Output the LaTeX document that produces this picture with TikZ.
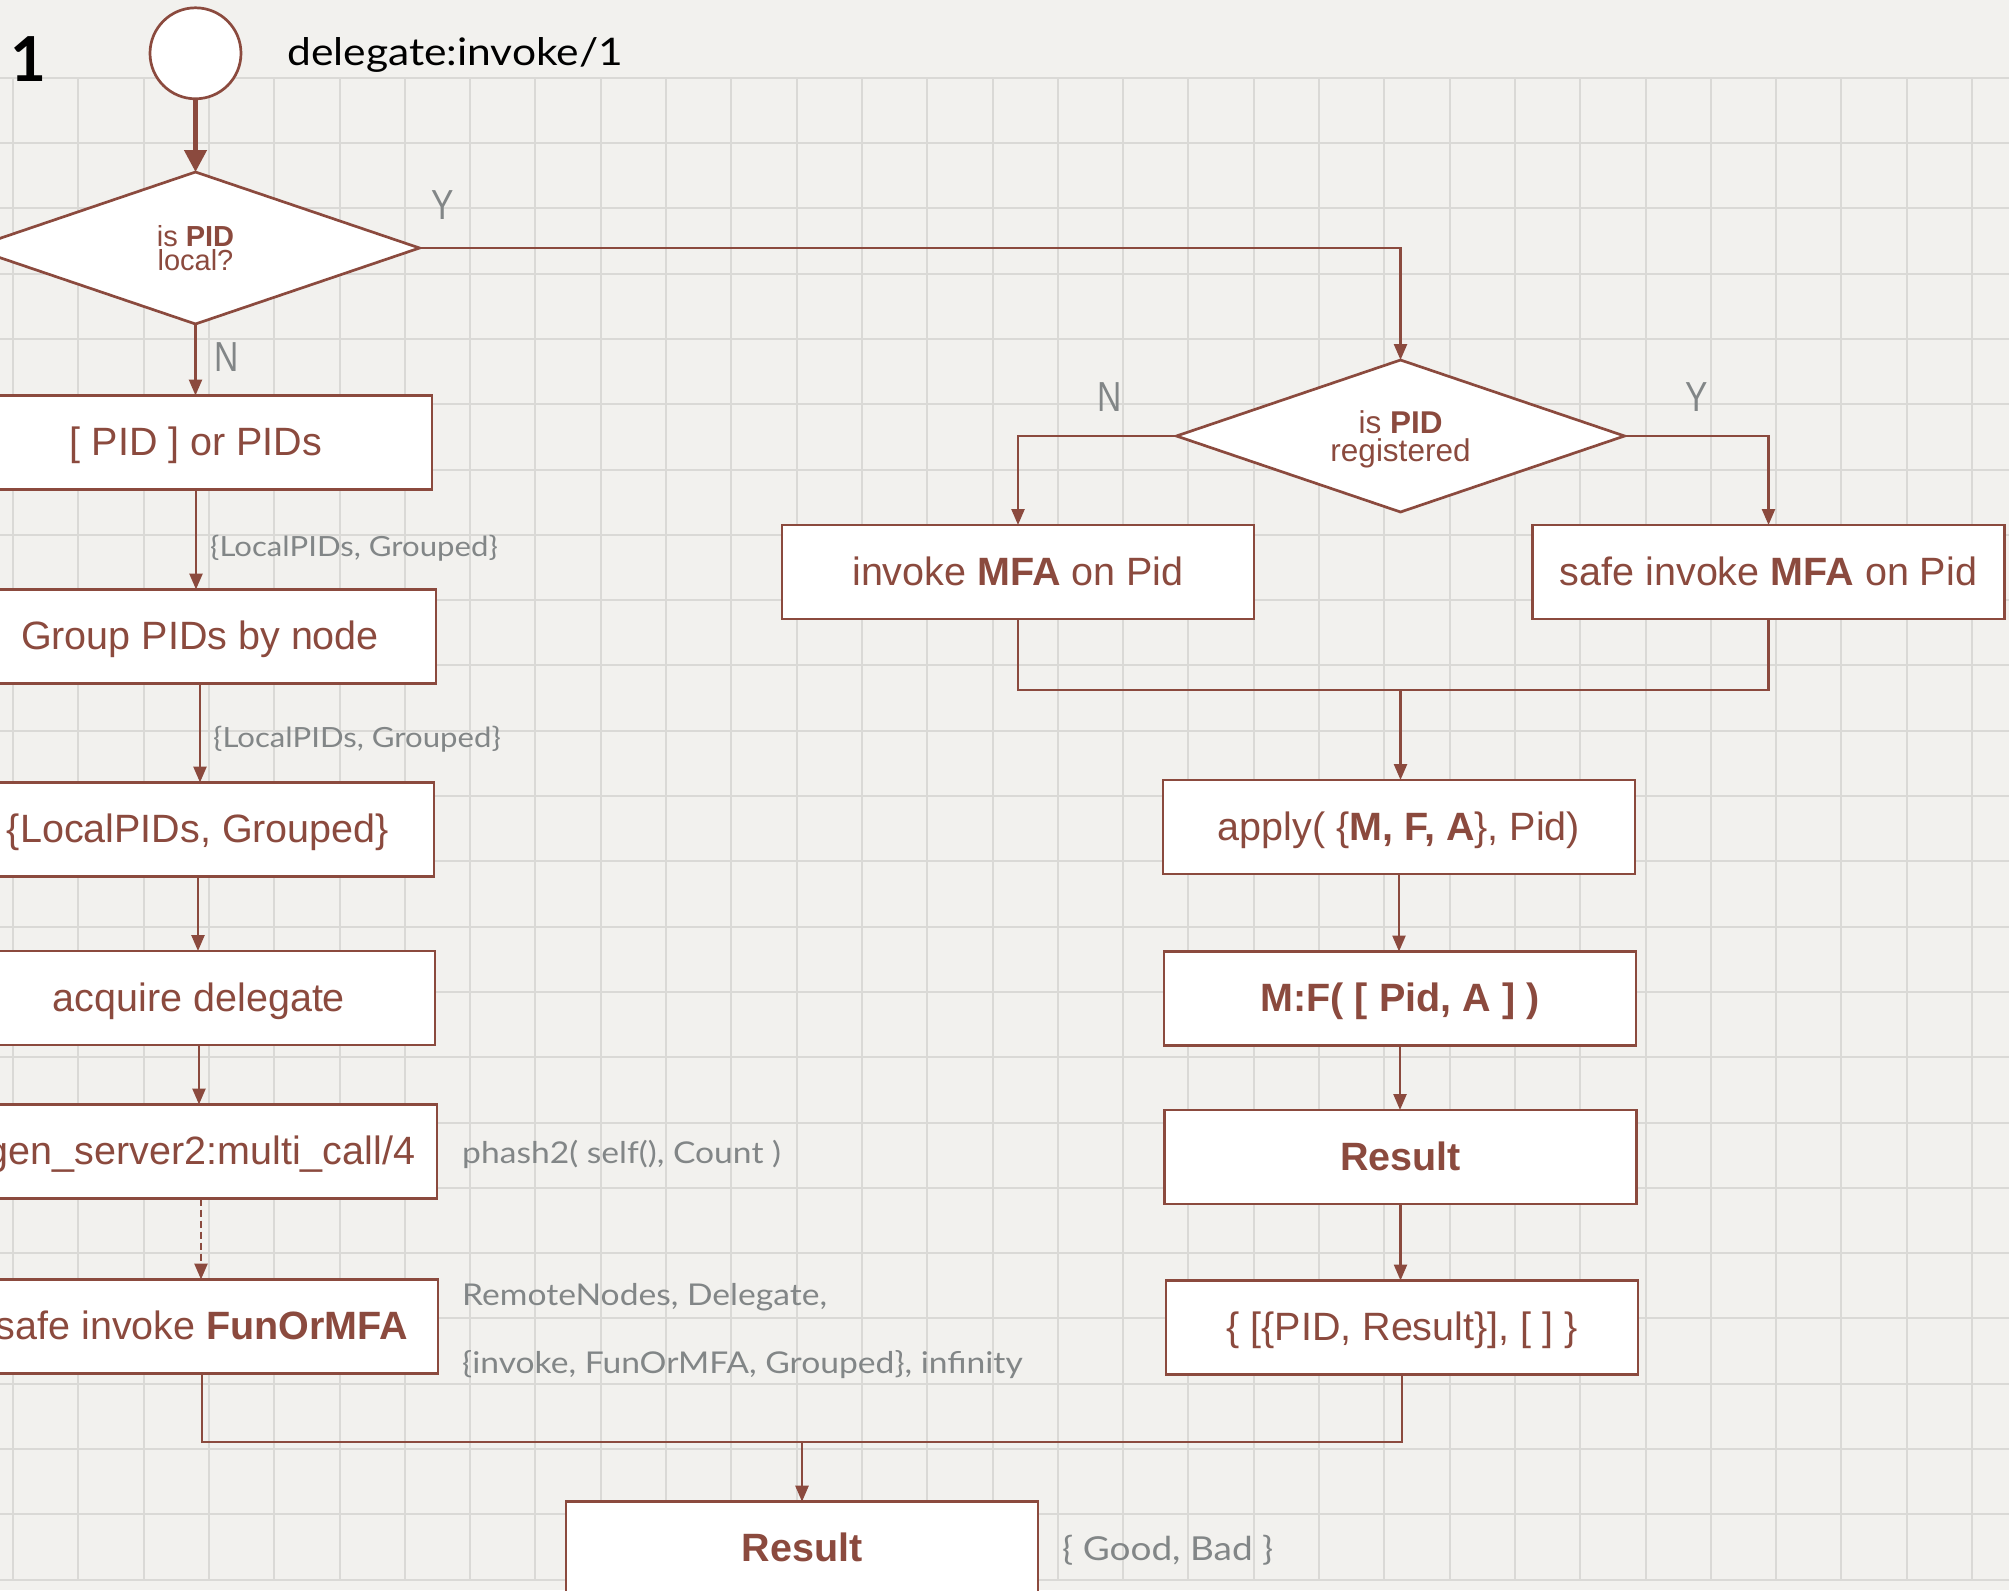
\documentclass[tikz,border=0pt]{standalone}
\usepackage{fontspec}
\setmainfont{Liberation Sans}
\newfontfamily\latofam{Lato}
\newfontfamily\latowide[FakeStretch=1.12]{Lato}
\newfontfamily\condfam[FakeStretch=0.8]{Liberation Sans}
\usetikzlibrary{arrows.meta,shapes.geometric}
\definecolor{brn}{HTML}{8B4A3E}
\definecolor{labc}{HTML}{828687}
\definecolor{paper}{HTML}{F2F1EE}
\definecolor{gridc}{HTML}{DAD9D6}
\newcommand\boxfnt{\fontsize{39.5}{47}\selectfont}
\newcommand\dfntA{\fontsize{29}{23.5}\selectfont}
\newcommand\dfntB{\fontsize{31.5}{28.7}\selectfont}
\newcommand\labA{\latowide\fontsize{27.8}{32}\selectfont}
\newcommand\labB{\latowide\fontsize{30}{34}\selectfont}
\newcommand\labC{\latowide\fontsize{33}{37}\selectfont}
\newcommand\ynfnt{\condfam\fontsize{42}{46}\selectfont}
\begin{document}
\begin{tikzpicture}[x=1pt,y=-1pt,
  box/.style={draw=brn, line width=2.7pt, fill=white, rectangle, minimum width=472pt,
    minimum height=94pt, inner sep=0pt, outer sep=0pt, text=brn, font=\boxfnt,
    text height=26pt, text depth=0pt},
  dec/.style={draw=brn, line width=2.7pt, fill=white, diamond, aspect=2.95, minimum width=448pt,
    minimum height=152pt, inner sep=0pt, outer sep=0pt, text=brn, align=center, text depth=0pt},
  conn/.style={draw=brn, line width=2.5pt},
  arr/.style={conn, -{Triangle[width=13pt,length=16pt]}},
  lab/.style={text=labc, font=\labB, anchor=base west, inner sep=0pt},
  yn/.style={text=labc, font=\ynfnt, inner sep=0pt},
]
\useasboundingbox (0,0) rectangle (2009,1590);
\clip (0,0) rectangle (2009,1590);
\fill[paper] (0,0) rectangle (2009,1590);
\foreach \i in {0,...,30} \draw[gridc, line width=2pt] ({13+65.3*\i},77.7) -- ({13+65.3*\i},1580);
\foreach \j in {0,...,23} \draw[gridc, line width=2pt] (0,{77.7+65.3*\j}) -- (2009,{77.7+65.3*\j});

% header
\node[font=\latofam\bfseries\fontsize{62}{66}\selectfont, inner sep=0pt] (one) at (28,59) {1};
\node[draw=brn, line width=2.7pt, fill=white, circle, minimum size=91pt, inner sep=0pt, outer sep=0pt] (start) at (195.5,53.3) {};
\node[font=\latowide\fontsize{38}{42}\selectfont, anchor=base west, inner sep=0pt] (title) at (287,65) {delegate:invoke/1};

% decisions
\node[dec, font=\dfntA] (d1) at (195.5,248) {is \textbf{PID}\\local?};
\node[dec, font=\dfntB] (d2) at (1400.5,436) {is \textbf{PID}\\registered};

% left column
\node[box] (b1) at (196,442.5) {[ PID ] or PIDs};
\node[box] (b2) at (200,636.5) {Group PIDs by node};
\node[box] (b3) at (198,829.5) {\{LocalPIDs, Grouped\}};
\node[box] (b4) at (199,998) {acquire delegate};
\node[box] (b5) at (201,1151.5) {gen\_server2:multi\_call/4};
\node[box] (b6) at (202,1326.5) {safe invoke \textbf{FunOrMFA}};

% right column
\node[box] (r1) at (1018,572) {invoke \textbf{MFA} on Pid};
\node[box] (r2) at (1768.5,572) {safe invoke \textbf{MFA} on Pid};
\node[box] (ap) at (1399,827) {apply( \{\textbf{M, F, A}\}, Pid)};
\node[box] (mf) at (1400,998.5) {\textbf{M:F( [ Pid, A ] )}};
\node[box] (rs) at (1400.5,1157) {\textbf{Result}};
\node[box] (ls) at (1402,1327.5) {\{ [\{PID, Result\}], [ ] \}};
\node[box] (res) at (802,1548.7) {\textbf{Result}};

\coordinate (m1) at (802,1442);
\coordinate (m2) at (1400.5,690);

% connectors
\draw[conn, line width=4.5pt, -{Triangle[width=22pt,length=22pt]}] (start.south) -- (d1.north);
\draw[arr] (d1.south) -- (d1.south |- b1.north);
\draw[arr] (d1.east) -| (d2.north);
\draw[arr] (b1.south) -- (b1.south |- b2.north);
\draw[arr] (b2.south) -- (b2.south |- b3.north);
\draw[arr] (b3.south) -- (b3.south |- b4.north);
\draw[arr] (b4.south) -- (b4.south |- b5.north);
\draw[arr, dash pattern=on 7pt off 4pt] (b5.south) -- (b5.south |- b6.north);
\draw[conn] (b6.south) |- (m1) -| (ls.south);
\draw[arr] (m1) -- (res.north);
\draw[arr] (d2.west) -| (r1.north);
\draw[arr] (d2.east) -| (r2.north);
\draw[conn] (r1.south) |- (m2) -| (r2.south);
\draw[arr] (m2) -- (m2 |- ap.north);
\draw[arr] (ap.south) -- (ap.south |- mf.north);
\draw[arr] (mf.south) -- (mf.south |- rs.north);
\draw[arr] (rs.south) -- (rs.south |- ls.north);

% labels
\node[yn] (y1) at (443,205) {Y};
\node[yn] (n1) at (227,357) {N};
\node[yn] (n2) at (1110,397) {N};
\node[yn] (y2) at (1697,397) {Y};
\node[lab, font=\labA] (l1) at (210,556) {\{LocalPIDs, Grouped\}};
\node[lab, font=\labA] (l2) at (213,747) {\{LocalPIDs, Grouped\}};
\node[lab] (l3) at (462,1163) {phash2( self(), Count )};
\node[lab] (l4) at (462,1305) {RemoteNodes, Delegate,};
\node[lab] (l5) at (462,1373) {\{invoke, FunOrMFA, Grouped\}, infinity};
\node[lab, font=\labC] (l6) at (1062,1560) {\{ Good, Bad \}};
\end{tikzpicture}
\end{document}
